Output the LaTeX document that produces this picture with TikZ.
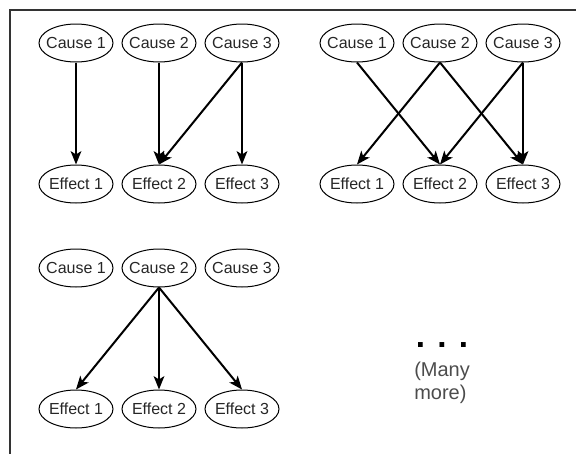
\documentclass[tikz,border=0pt]{standalone}
\usepackage{fontspec}
\setmainfont{Liberation Sans}
\usetikzlibrary{shapes.geometric,arrows.meta}
\begin{document}
\begin{tikzpicture}[x=0.75pt,y=-0.75pt,
  event/.style={ellipse,draw=black,line width=0.75pt,minimum width=55.5pt,minimum height=28.5pt,
    inner xsep=-3.2pt,inner ysep=0pt,font=\fontsize{12}{14}\selectfont,text=black!85},
  link/.style={line width=1.5pt,-{Stealth[length=10pt,width=8pt,inset=2.5pt]}},
  frame/.style={line width=1.1pt,draw=black!80}]
\useasboundingbox (0,0) rectangle (576,454);
% outer frame, running off the right and bottom edges
\draw[frame] (10,454) -- (10,10) -- (576,10);

% group 1
\node[event] (a1) at (76,43) {Cause 1};
\node[event] (a2) at (159,43) {Cause 2};
\node[event] (a3) at (242,43) {Cause 3};
\node[event] (ae1) at (76,184) {Effect 1};
\node[event] (ae2) at (159,184) {Effect 2};
\node[event] (ae3) at (242,184) {Effect 3};
\draw[link] (a1.south) -- (ae1.north);
\draw[link] (a2.south) -- (ae2.north);
\draw[link] (a3.south) -- (ae2.north);
\draw[link] (a3.south) -- (ae3.north);

% group 2
\node[event] (b1) at (357,43) {Cause 1};
\node[event] (b2) at (440,43) {Cause 2};
\node[event] (b3) at (523,43) {Cause 3};
\node[event] (be1) at (357,184) {Effect 1};
\node[event] (be2) at (440,184) {Effect 2};
\node[event] (be3) at (523,184) {Effect 3};
\draw[link] (b1.south) -- (be2.north);
\draw[link] (b2.south) -- (be1.north);
\draw[link] (b2.south) -- (be3.north);
\draw[link] (b3.south) -- (be2.north);
\draw[link] (b3.south) -- (be3.north);

% group 3
\node[event] (c1) at (76,268) {Cause 1};
\node[event] (c2) at (159,268) {Cause 2};
\node[event] (c3) at (242,268) {Cause 3};
\node[event] (ce1) at (76,409) {Effect 1};
\node[event] (ce2) at (159,409) {Effect 2};
\node[event] (ce3) at (242,409) {Effect 3};
\draw[link] (c2.south) -- (ce1.north);
\draw[link] (c2.south) -- (ce2.north);
\draw[link] (c2.south) -- (ce3.north);

% ellipsis and note
\node[anchor=base west,inner sep=0pt,font=\fontsize{25}{30}\selectfont\bfseries] (dots) at (415.5,347) {. . .};
\node[anchor=north west,inner sep=0pt,align=left,text=black!70,
  font=\fontsize{15}{17}\selectfont] (note) at (414,362) {(Many\\more)};
\end{tikzpicture}
\end{document}
